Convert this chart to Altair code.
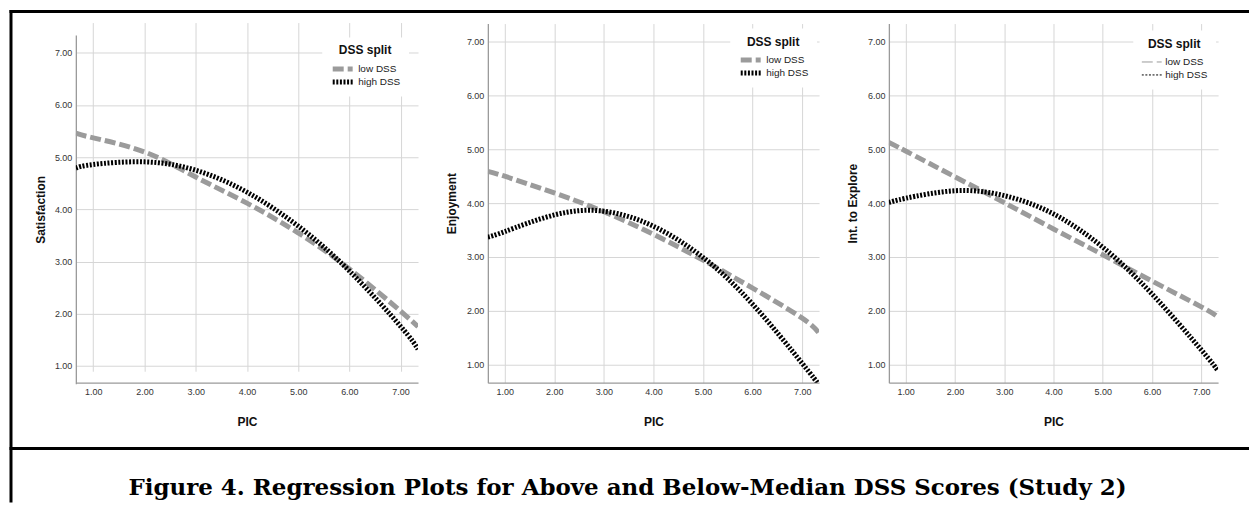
import altair as alt
import pandas as pd

# ---- data ----
PIC = [0.66, 1.0, 2.0, 3.0, 4.0, 5.0, 6.0, 7.0, 7.34]
GROUPS = ["low DSS", "high DSS"]

SAT_LOW = [5.46, 5.37, 5.10, 4.62, 4.12, 3.55, 2.86, 2.05, 1.75]
SAT_HIGH = [4.79, 4.86, 4.91, 4.75, 4.33, 3.68, 2.82, 1.76, 1.32]

ENJ_LOW = [4.59, 4.50, 4.19, 3.84, 3.42, 2.94, 2.42, 1.86, 1.58]
ENJ_HIGH = [3.37, 3.47, 3.78, 3.85, 3.57, 2.99, 2.12, 1.02, 0.62]

EXP_LOW = [5.13, 4.97, 4.49, 4.01, 3.52, 3.04, 2.55, 2.07, 1.88]
EXP_HIGH = [4.01, 4.09, 4.23, 4.14, 3.80, 3.18, 2.31, 1.27, 0.88]

TICKS = [1, 2, 3, 4, 5, 6, 7]
DOMAIN = [0.66, 7.34]
COLORS = ["#9b9b9b", "#000000"]
DASHES = [[11, 4], [2, 1.6]]
CAPTION = "Figure 4. Regression Plots for Above and Below-Median DSS Scores (Study 2)"

FONT = "Liberation Sans"


def panel(low, high, ytitle, width, yrange, lx, ly, sym_w, ytpad):
    n = len(PIC)
    df = pd.DataFrame({
        "PIC": PIC + PIC,
        "value": low + high,
        "group": [GROUPS[0]] * n + [GROUPS[1]] * n,
    })
    leg = alt.Legend(
        title="DSS split", orient="none", legendX=lx, legendY=ly,
        titleAnchor="middle", titleAlign="center", fillColor="white",
        padding=8, symbolType="stroke", symbolSize=400,
        symbolStrokeWidth=sym_w, labelFontSize=10, labelFont=FONT,
        labelColor="#222", titleFont=FONT, titleFontSize=12,
        titleFontWeight="bold", titleColor="#111", labelOffset=3,
        titlePadding=5, rowPadding=0, clipHeight=13,
    )
    yscale = alt.Scale(domain=DOMAIN, nice=False, zero=False)
    if yrange is not None:
        yscale = alt.Scale(domain=DOMAIN, nice=False, zero=False, range=yrange)
    return alt.Chart(df).mark_line(strokeWidth=5, clip=True, interpolate="natural").encode(
        x=alt.X("PIC:Q",
                scale=alt.Scale(domain=DOMAIN, nice=False, zero=False),
                axis=alt.Axis(values=TICKS, format=".2f", title="PIC",
                              labelPadding=5, titlePadding=20)),
        y=alt.Y("value:Q", scale=yscale,
                axis=alt.Axis(values=TICKS, format=".2f", title=ytitle,
                              labelPadding=4, titlePadding=ytpad)),
        color=alt.Color("group:N", scale=alt.Scale(domain=GROUPS, range=COLORS), legend=leg),
        strokeDash=alt.StrokeDash("group:N", scale=alt.Scale(domain=GROUPS, range=DASHES), legend=leg),
        order=alt.Order("grp_order:Q"),
    ).transform_calculate(
        grp_order="datum.group == 'low DSS' ? 0 : 1"
    ).properties(width=width, height=360)


one = pd.DataFrame({"k": [0]})
top_rule = alt.Chart(one).mark_rule(color="black", strokeWidth=3).encode(
    x=alt.value(-66.5), x2=alt.value(1176), y=alt.value(-12))
left_rule = alt.Chart(one).mark_rule(color="black", strokeWidth=3).encode(
    x=alt.value(-65), y=alt.value(-13.5), y2=alt.value(480))
sep_rule = alt.Chart(one).mark_rule(color="black", strokeWidth=3).encode(
    x=alt.value(-66.5), x2=alt.value(1176), y=alt.value(426))
caption = alt.Chart(one).mark_text(
    font="DejaVu Serif", fontWeight="bold", fontSize=23, color="black",
    align="center", baseline="middle").encode(
    x=alt.value(553), y=alt.value(466), text=alt.value(CAPTION))

p1 = alt.layer(
    panel(SAT_LOW, SAT_HIGH, "Satisfaction", 343, [361, 11.5], 247, 14, 5, 7),
    top_rule, left_rule, sep_rule, caption,
)
p2 = panel(ENJ_LOW, ENJ_HIGH, "Enjoyment", 332, None, 243, 5, 5, 8)
p3 = panel(EXP_LOW, EXP_HIGH, "Int. to Explore", 330, None, 245, 7, 1, 8)

chart = alt.hconcat(p1, p2, p3, spacing=70, bounds="flush").resolve_scale(
    color="independent", strokeDash="independent"
).resolve_legend(
    color="independent", strokeDash="independent"
).properties(
    padding=0
).configure_view(
    stroke=None
).configure_axis(
    gridColor="#d6d6d6", gridWidth=1, domainColor="#9a9a9a", domainWidth=1.3,
    ticks=False, labelFont=FONT, labelFontSize=9, labelColor="#333",
    titleFont=FONT, titleFontSize=12, titleFontWeight="bold", titleColor="#111",
)

chart.save("out.html", embed_options={"renderer": "svg", "actions": False})
